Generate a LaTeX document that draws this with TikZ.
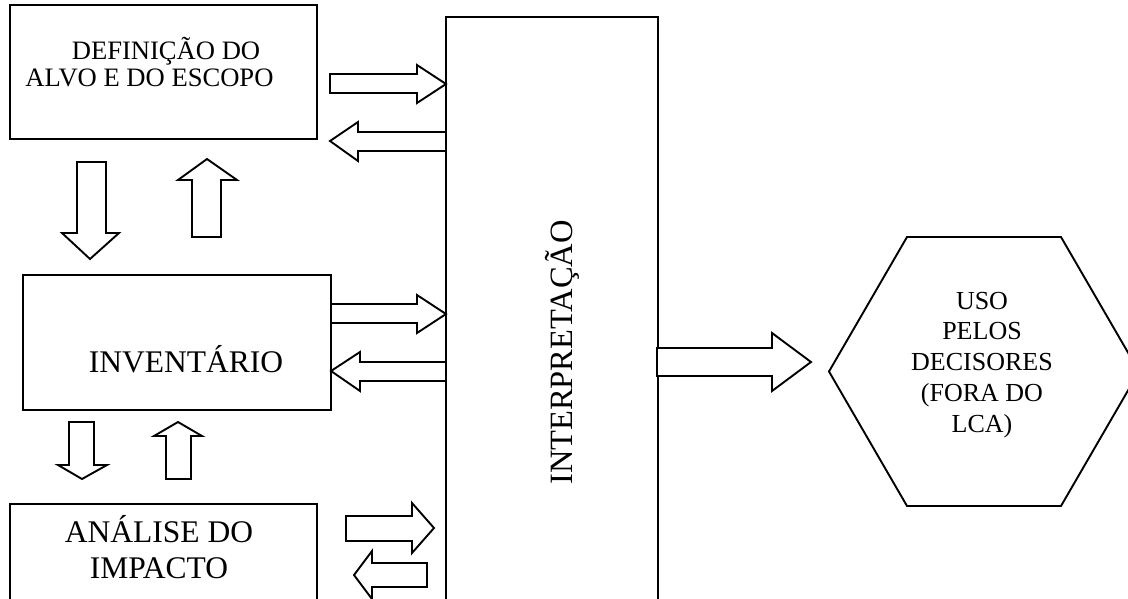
\documentclass[tikz,border=0pt]{standalone}
\usepackage{fontspec}
\setmainfont{Liberation Serif}
\begin{document}
\begin{tikzpicture}[x=1pt,y=-1pt, line width=1.9pt,
  box/.style={draw, rectangle, inner sep=0pt, outer sep=0pt, anchor=north west},
  blk/.style={draw, fill=white, line join=miter},
  lbl/.style={anchor=base, inner sep=0pt, font=\fontsize{26}{30}\selectfont},
  lbltop/.style={anchor=base, inner sep=0pt, font=\fontsize{26.6}{30}\selectfont},
  lblb/.style={anchor=base, inner sep=0pt, font=\fontsize{31.5}{36}\selectfont}]
\useasboundingbox (0,0) rectangle (1128,598);
\clip (0,0) rectangle (1128,598);

% boxes
\node[box, minimum width=307pt, minimum height=134pt] (def) at (10,5) {};
\node[box, minimum width=308pt, minimum height=135pt] (inv) at (23,275) {};
\node[box, minimum width=307pt, minimum height=120pt] (ana) at (10,504) {};
\node[box, minimum width=212pt, minimum height=620pt] (int) at (446,17) {};

% hexagon
\coordinate (h1) at (907,237);
\coordinate (h2) at (1061,237);
\coordinate (h3) at (1139,371.5);
\coordinate (h4) at (1061,506);
\coordinate (h5) at (907,506);
\coordinate (h6) at (829,371.5);
\draw[line join=miter] (h1) -- (h2) -- (h3) -- (h4) -- (h5) -- (h6) -- cycle;

% texts
\node[lbltop] (t1) at (166,59) {DEFINIÇÃO DO};
\node[lbltop] (t2) at (149.5,86) {ALVO E DO ESCOPO};
\node[lblb] (t3) at (186,372) {INVENTÁRIO};
\node[lblb] (t4) at (159,542) {ANÁLISE DO};
\node[lblb] (t5) at (159,578) {IMPACTO};
\node[lblb, rotate=90, font=\fontsize{32.5}{36}\selectfont] (t6) at (572,352.5) {INTERPRETAÇÃO};
\node[lbl] (u1) at (982,309) {USO};
\node[lbl] (u2) at (982,339) {PELOS};
\node[lbl] (u3) at (982,370) {DECISORES};
\node[lbl] (u4) at (982,401) {(FORA DO};
\node[lbl] (u5) at (982,432) {LCA)};

% block arrows: top box <-> interpretacao
\draw[blk] (330,74) -- (417,74) -- (417,65) -- (446,84) -- (417,103) -- (417,93) -- (330,93) -- cycle;
\draw[blk] (446,132) -- (358,132) -- (358,122) -- (330,141) -- (358,161) -- (358,151) -- (446,151) -- cycle;
% top box <-> inventario
\draw[blk] (77,162) -- (106,162) -- (106,233) -- (119,233) -- (90,259) -- (62,233) -- (77,233) -- cycle;
\draw[blk] (192,237) -- (221,237) -- (221,180) -- (237,180) -- (207,159) -- (178,180) -- (192,180) -- cycle;
% inventario <-> interpretacao
\draw[blk] (331,304) -- (417,304) -- (417,295) -- (446,314) -- (417,333) -- (417,323) -- (331,323) -- cycle;
\draw[blk] (446,362) -- (360,362) -- (360,352) -- (331,371) -- (360,391) -- (360,381) -- (446,381) -- cycle;
% inventario <-> analise
\draw[blk] (69,422) -- (94,422) -- (94,465) -- (107,465) -- (82,479) -- (58,465) -- (69,465) -- cycle;
\draw[blk] (166,479) -- (191,479) -- (191,436) -- (202,436) -- (178,422) -- (154,436) -- (166,436) -- cycle;
% analise <-> interpretacao
\draw[blk] (346,516) -- (412,516) -- (412,503) -- (434,528) -- (412,553) -- (412,541) -- (346,541) -- cycle;
\draw[blk] (427,563) -- (372,563) -- (372,551) -- (354,575) -- (372,599) -- (372,587) -- (427,587) -- cycle;
% interpretacao -> uso
\draw[blk] (657,348) -- (772,348) -- (772,333) -- (811,362) -- (772,391) -- (772,376) -- (657,376) -- cycle;
\end{tikzpicture}
\end{document}
